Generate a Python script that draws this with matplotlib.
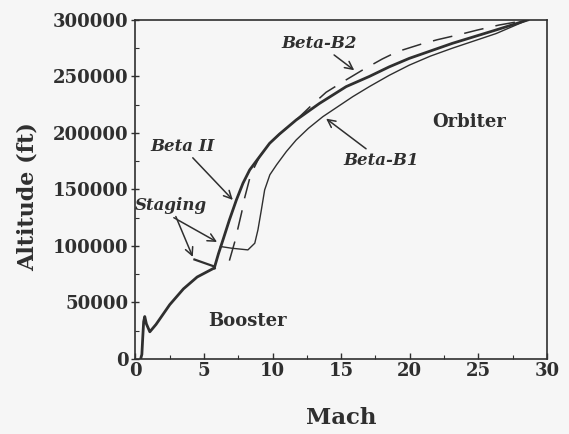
import matplotlib
matplotlib.use("Agg")
import matplotlib.pyplot as plt
from matplotlib.ticker import MultipleLocator

# ---- data (Mach, altitude ft) ----
booster_mach = [0.38, 0.47, 0.53, 0.6, 0.68, 0.8, 1.05, 1.5, 2.5, 3.5, 4.5, 5.75]
booster_alt = [0, 4000, 18000, 33000, 37500, 31000, 24000, 30500, 48000, 62000, 72500, 80500]

beta2_mach = [5.75, 6.05, 6.4, 6.85, 7.36, 7.84, 8.33, 9.05, 9.78, 10.5, 11.72,
              13.4, 15.36, 17.05, 18.5, 19.96, 23.1, 26.3, 28.6]
beta2_alt = [80500, 93000, 106000, 123000, 140700, 155500, 167300, 179000, 190800,
             199000, 211500, 226000, 241000, 250000, 258500, 266000, 279300, 291200, 300000]

betab1_mach = [6.2, 7.0, 8.2, 8.7, 8.93, 9.18, 9.42, 9.8, 10.3, 11.0, 11.72, 12.6, 13.66,
               15.84, 17.05, 18.5, 19.96, 21.5, 23.1, 26.3, 28.6]
betab1_alt = [99500, 98000, 96500, 102400, 114200, 131900, 149600, 163000, 172000, 183500,
              193800, 204000, 214400, 232100, 241000, 251000, 260000, 268000, 275000, 288000, 300000]

betab2_mach = [6.85, 7.25, 7.75, 7.95, 8.4, 9.05, 9.78, 10.5, 11.72, 12.8, 13.9, 15.36,
               16.57, 18.0, 19.1, 20.8, 22.0, 23.6, 24.9, 26.5, 28.6]
betab2_alt = [87000, 104000, 130000, 142000, 163000, 179000, 190800, 199000, 211500, 224000,
              236000, 247000, 255800, 265500, 272000, 278500, 282500, 287000, 291000, 295500, 300000]

staging_mach = [4.3, 5.75]
staging_alt = [88000, 81800]

x_ticks = [0, 5, 10, 15, 20, 25, 30]
y_ticks = [0, 50000, 100000, 150000, 200000, 250000, 300000]

col = "#2f2f2f"
bg = "#f6f6f6"
plt.rcParams["font.family"] = ["DejaVu Serif"]

fig = plt.figure(figsize=(5.69, 4.34), dpi=100, facecolor=bg)
ax = fig.add_axes([0.238, 0.173, 0.7233, 0.781], facecolor=bg)

ax.plot(booster_mach, booster_alt, color=col, lw=2.0, solid_joinstyle="round")
ax.plot(beta2_mach, beta2_alt, color=col, lw=2.0, solid_joinstyle="round")
ax.plot(staging_mach, staging_alt, color=col, lw=1.6)
ax.plot(betab1_mach, betab1_alt, color=col, lw=1.0)
ax.plot(betab2_mach, betab2_alt, color=col, lw=1.1, dashes=(13, 8))

ax.set_xlim(0, 30)
ax.set_ylim(0, 300000)
ax.set_xticks(x_ticks)
ax.set_yticks(y_ticks)
ax.xaxis.set_minor_locator(MultipleLocator(2.5))
ax.yaxis.set_minor_locator(MultipleLocator(25000))
ax.tick_params(which="both", direction="in", color=col, labelcolor=col)
ax.tick_params(axis="y", which="major", direction="inout", length=6)
ax.tick_params(axis="x", which="major", length=4)
ax.tick_params(which="major", width=1, labelsize=13, pad=2)
ax.tick_params(which="minor", length=3, width=0.8)
for lab in ax.get_xticklabels() + ax.get_yticklabels():
    lab.set_fontweight("bold")
for s in ax.spines.values():
    s.set_color(col)
    s.set_linewidth(1.2)

ax.set_xlabel("Mach", fontsize=16.5, fontweight="bold", color=col, labelpad=20)
ax.set_ylabel("Altitude (ft)", fontsize=16, fontweight="bold", color=col, labelpad=10)
ax.yaxis.label.set_y(0.48)

tstyle = dict(fontsize=12, fontweight="bold", style="italic", color=col)
ap = dict(arrowstyle="->", color=col, lw=1.1, shrinkA=0, shrinkB=0, mutation_scale=14)

ax.annotate("Beta-B2", xy=(15.95, 255500), xytext=(13.4, 279000), ha="center", va="center",
            arrowprops=ap, **tstyle)
ax.annotate("Beta II", xy=(7.1, 140700), xytext=(3.4, 188000), ha="center", va="center",
            arrowprops=ap, **tstyle)
ax.annotate("Staging", xy=(4.18, 90300), xytext=(2.6, 136000), ha="center", va="center",
            arrowprops=ap, **tstyle)
ax.annotate("", xy=(5.95, 103500), xytext=(2.8, 125000), arrowprops=ap)
ax.annotate("Beta-B1", xy=(13.9, 212700), xytext=(17.9, 176000), ha="center", va="center",
            arrowprops=ap, **tstyle)

ax.text(24.3, 210000, "Orbiter", fontsize=13, fontweight="bold", color=col, ha="center", va="center")
ax.text(8.2, 34000, "Booster", fontsize=13, fontweight="bold", color=col, ha="center", va="center")

fig.savefig("out.png", dpi=100, facecolor=bg)
